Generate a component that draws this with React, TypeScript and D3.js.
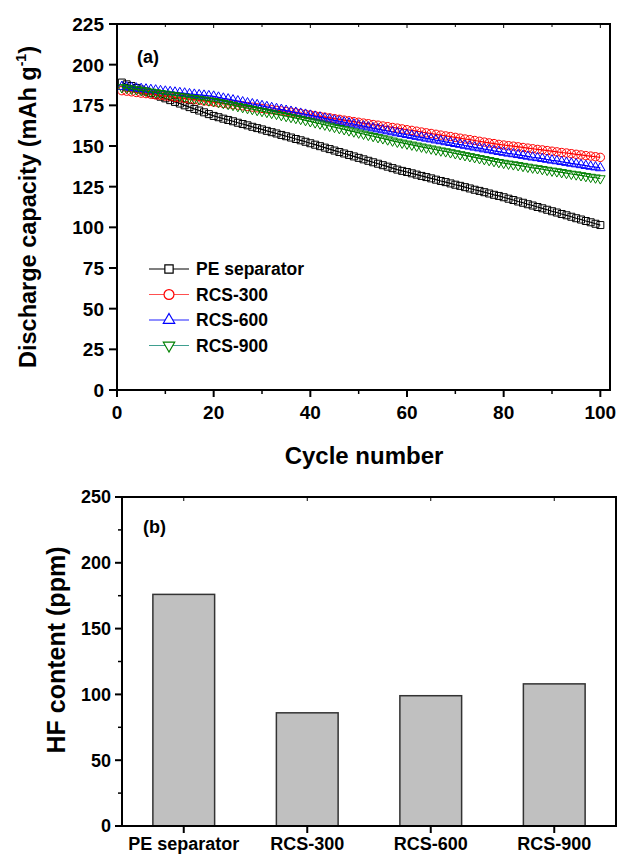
import * as d3 from "d3";

// cycle numbers 1..100
const cycles = d3.range(1, 101);

const peSeparator = [
  189.0, 187.9, 186.9, 185.7, 184.7, 183.6, 182.5, 181.5, 180.3, 179.3,
  178.2, 177.1, 176.1, 175.0, 173.9, 172.8, 171.8, 170.7, 169.6, 168.5,
  167.7, 166.8, 166.0, 165.2, 164.3, 163.5, 162.7, 161.8, 161.0, 160.2,
  159.3, 158.5, 157.7, 156.8, 156.0, 155.2, 154.3, 153.5, 152.6, 151.7,
  150.8, 149.9, 149.0, 148.1, 147.2, 146.3, 145.4, 144.5, 143.6, 142.7,
  141.8, 140.9, 140.0, 139.1, 138.2, 137.3, 136.4, 135.5, 134.7, 134.0,
  133.2, 132.4, 131.6, 130.9, 130.1, 129.3, 128.5, 127.8, 127.0, 126.2,
  125.5, 124.7, 123.9, 123.1, 122.4, 121.6, 120.8, 120.0, 119.3, 118.5,
  117.6, 116.8, 115.9, 115.1, 114.2, 113.4, 112.5, 111.7, 110.8, 109.9,
  109.1, 108.2, 107.4, 106.5, 105.6, 104.8, 103.9, 103.1, 102.2, 101.4,
];

const rcs300 = [
  184.0, 183.7, 183.3, 182.9, 182.5, 182.2, 181.8, 181.4, 181.1, 180.7,
  180.3, 179.9, 179.6, 179.2, 178.8, 178.5, 178.1, 177.7, 177.4, 177.0,
  176.6, 176.2, 175.8, 175.4, 175.1, 174.7, 174.3, 173.9, 173.5, 173.1,
  172.7, 172.3, 171.9, 171.6, 171.2, 170.8, 170.4, 170.0, 169.5, 169.1,
  168.6, 168.2, 167.7, 167.3, 166.8, 166.4, 165.9, 165.5, 165.0, 164.6,
  164.1, 163.7, 163.2, 162.8, 162.3, 161.9, 161.4, 161.0, 160.5, 160.0,
  159.6, 159.1, 158.6, 158.1, 157.7, 157.2, 156.7, 156.2, 155.8, 155.3,
  154.8, 154.3, 153.9, 153.4, 152.9, 152.4, 151.9, 151.5, 151.0, 150.6,
  150.2, 149.9, 149.5, 149.1, 148.7, 148.3, 147.9, 147.6, 147.2, 146.8,
  146.4, 146.0, 145.7, 145.3, 144.9, 144.5, 144.1, 143.8, 143.4, 143.0,
];

const rcs600 = [
  186.5, 186.2, 185.9, 185.5, 185.2, 184.9, 184.6, 184.3, 183.9, 183.6,
  183.3, 183.0, 182.7, 182.4, 182.0, 181.7, 181.4, 181.1, 180.8, 180.5,
  179.9, 179.3, 178.8, 178.2, 177.6, 177.0, 176.4, 175.8, 175.3, 174.7,
  174.1, 173.5, 172.9, 172.4, 171.8, 171.2, 170.6, 170.0, 169.4, 168.8,
  168.2, 167.6, 167.0, 166.4, 165.8, 165.2, 164.6, 164.0, 163.4, 162.8,
  162.2, 161.6, 161.0, 160.4, 159.8, 159.2, 158.6, 158.0, 157.5, 156.9,
  156.4, 155.8, 155.3, 154.7, 154.2, 153.6, 153.1, 152.5, 152.0, 151.4,
  150.9, 150.3, 149.8, 149.2, 148.7, 148.1, 147.6, 147.0, 146.5, 146.0,
  145.5, 145.1, 144.6, 144.1, 143.6, 143.1, 142.7, 142.2, 141.7, 141.2,
  140.8, 140.3, 139.8, 139.3, 138.9, 138.4, 137.9, 137.4, 137.0, 136.5,
];

const rcs900 = [
  186.0, 185.6, 185.1, 184.7, 184.2, 183.8, 183.3, 182.9, 182.4, 182.0,
  181.5, 181.1, 180.6, 180.2, 179.7, 179.3, 178.8, 178.4, 177.9, 177.5,
  176.9, 176.3, 175.7, 175.1, 174.4, 173.8, 173.2, 172.6, 172.0, 171.4,
  170.8, 170.2, 169.6, 168.9, 168.3, 167.7, 167.1, 166.5, 165.8, 165.1,
  164.4, 163.7, 163.0, 162.3, 161.6, 160.9, 160.2, 159.5, 158.8, 158.1,
  157.4, 156.7, 156.0, 155.3, 154.6, 153.9, 153.2, 152.5, 151.9, 151.3,
  150.7, 150.1, 149.5, 148.9, 148.3, 147.7, 147.1, 146.6, 146.0, 145.4,
  144.8, 144.2, 143.6, 143.0, 142.4, 141.8, 141.2, 140.6, 140.0, 139.5,
  139.0, 138.6, 138.1, 137.6, 137.1, 136.6, 136.2, 135.7, 135.2, 134.7,
  134.3, 133.8, 133.3, 132.8, 132.4, 131.9, 131.4, 130.9, 130.5, 130.0,
];

const seriesNames = ["PE separator", "RCS-300", "RCS-600", "RCS-900"];

const hfLabels = ["PE separator", "RCS-300", "RCS-600", "RCS-900"];
const hfValues = [176, 86, 99, 108];

const capTicks = [0, 25, 50, 75, 100, 125, 150, 175, 200, 225];
const cycleTicks = [0, 20, 40, 60, 80, 100];
const cycleMinor = [10, 30, 50, 70, 90];
const hfTicks = [0, 50, 100, 150, 200, 250];
const hfMinor = [25, 75, 125, 175, 225];

const font = "'Liberation Sans', Arial, sans-serif";

const styles = [
  { values: peSeparator, color: "#000000", legendColor: "#000000", symbol: d3.symbolSquare, size: 49, rotate: 0 },
  { values: rcs300, color: "#ff0000", legendColor: "#ff5050", symbol: d3.symbolCircle, size: 55, rotate: 0 },
  { values: rcs600, color: "#0000ff", legendColor: "#2020ff", symbol: d3.symbolTriangle, size: 40, rotate: 0 },
  { values: rcs900, color: "#008000", legendColor: "#3f9f8f", symbol: d3.symbolTriangle, size: 40, rotate: 180 },
];

function CapacityChart() {
  const x = d3.scaleLinear().domain([0, 102]).range([117, 610]);
  const y = d3.scaleLinear().domain([0, 225]).range([390, 24]);
  const [x0, x1] = x.range();
  const [yb, yt] = y.range();

  const line = d3
    .line<number>()
    .x((_, i) => x(cycles[i]))
    .y((d) => y(d));

  return (
    <g fontFamily={font} fontWeight="bold">
      {styles.map((s, k) => (
        <g key={k}>
          <path d={line(s.values) || ""} fill="none" stroke={s.color} strokeWidth={1.2} />
          {s.values.map((v, i) => (
            <path
              key={i}
              d={d3.symbol(s.symbol, s.size)() || ""}
              transform={`translate(${x(cycles[i])},${y(v)}) rotate(${s.rotate})`}
              fill="none"
              stroke={s.color}
              strokeWidth={1}
            />
          ))}
        </g>
      ))}

      {/* frame */}
      <rect x={x0} y={yt} width={x1 - x0} height={yb - yt} fill="none" stroke="#000" strokeWidth={2} />

      {/* y axis */}
      {capTicks.map((t) => (
        <g key={t}>
          <line x1={x0 - 8} x2={x0} y1={y(t)} y2={y(t)} stroke="#000" strokeWidth={2} />
          <text x={x0 - 13} y={y(t)} dy="0.36em" textAnchor="end" fontSize={19}>
            {t}
          </text>
        </g>
      ))}

      {/* x axis */}
      {cycleTicks.map((t) => (
        <g key={t}>
          <line x1={x(t)} x2={x(t)} y1={yb} y2={yb + 7} stroke="#000" strokeWidth={2} />
          <line x1={x(t)} x2={x(t)} y1={yt} y2={yt + 4} stroke="#000" strokeWidth={1} />
          <text x={x(t)} y={yb + 29} textAnchor="middle" fontSize={19}>
            {t}
          </text>
        </g>
      ))}
      {cycleMinor.map((t) => (
        <g key={t}>
          <line x1={x(t)} x2={x(t)} y1={yb} y2={yb + 4} stroke="#000" strokeWidth={1.5} />
          <line x1={x(t)} x2={x(t)} y1={yt} y2={yt + 3} stroke="#000" strokeWidth={1} />
        </g>
      ))}

      <text x={364} y={464} textAnchor="middle" fontSize={24}>
        Cycle number
      </text>
      <text transform="translate(36,207) rotate(-90)" textAnchor="middle" fontSize={23.5}>
        Discharge capacity (mAh g
        <tspan fontSize={14} dy={-10}>-1</tspan>
        <tspan dy={10}>)</tspan>
      </text>

      <text x={137} y={63} fontSize={18}>
        (a)
      </text>

      {/* legend */}
      {styles.map((s, k) => {
        const ly = 269 + k * 25.5;
        return (
          <g key={k}>
            <line x1={149} x2={189} y1={ly} y2={ly} stroke={s.legendColor} strokeWidth={1.2} />
            <path
              d={d3.symbol(s.symbol, s.size * 1.4)() || ""}
              transform={`translate(169,${ly}) rotate(${s.rotate})`}
              fill="#fff"
              stroke={s.color}
              strokeWidth={1.2}
            />
            <text x={196} y={ly} dy="0.36em" fontSize={17.5}>
              {seriesNames[k]}
            </text>
          </g>
        );
      })}
    </g>
  );
}

function HfChart() {
  const x = d3.scaleBand<string>().domain(hfLabels).range([122, 616]).paddingInner(0.5).paddingOuter(0.25);
  const y = d3.scaleLinear().domain([0, 250]).range([826, 497]);
  const [x0, x1] = x.range();
  const [yb, yt] = y.range();

  return (
    <g fontFamily={font} fontWeight="bold">
      {hfLabels.map((c, i) => (
        <rect
          key={c}
          x={x(c)}
          y={y(hfValues[i])}
          width={x.bandwidth()}
          height={yb - y(hfValues[i])}
          fill="#c0c0c0"
          stroke="#333"
          strokeWidth={1.5}
        />
      ))}

      <rect x={x0} y={yt} width={x1 - x0} height={yb - yt} fill="none" stroke="#000" strokeWidth={2} />

      {hfTicks.map((t) => (
        <g key={t}>
          <line x1={x0 - 7} x2={x0} y1={y(t)} y2={y(t)} stroke="#000" strokeWidth={2} />
          <text x={x0 - 11} y={y(t)} dy="0.36em" textAnchor="end" fontSize={18}>
            {t}
          </text>
        </g>
      ))}
      {hfMinor.map((t) => (
        <line key={t} x1={x0 - 4} x2={x0} y1={y(t)} y2={y(t)} stroke="#000" strokeWidth={1.5} />
      ))}

      {hfLabels.map((c) => {
        const cx = (x(c) || 0) + x.bandwidth() / 2;
        return (
          <g key={c}>
            <line x1={cx} x2={cx} y1={yb} y2={yb + 7} stroke="#000" strokeWidth={2} />
            <line x1={cx} x2={cx} y1={yt} y2={yt + 4} stroke="#000" strokeWidth={1} />
            <text x={cx} y={850} textAnchor="middle" fontSize={18}>
              {c}
            </text>
          </g>
        );
      })}

      <text x={143} y={533} fontSize={18}>
        (b)
      </text>

      <text transform="translate(65,650) rotate(-90)" textAnchor="middle" fontSize={25}>
        HF content (ppm)
      </text>
    </g>
  );
}

export default function App() {
  return (
    <svg
      width={617}
      height={855}
      viewBox="0 0 617 855"
      style={{ position: "absolute", left: 0, top: 0, background: "#fff" }}
    >
      <rect width={617} height={855} fill="#fff" />
      <CapacityChart />
      <HfChart />
    </svg>
  );
}
